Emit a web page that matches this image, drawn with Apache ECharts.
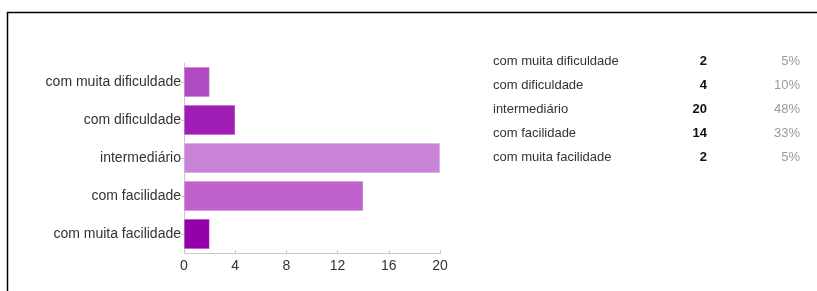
<!DOCTYPE html>
<html>
<head>
<meta charset="utf-8">
<script src="https://cdn.jsdelivr.net/npm/echarts@6/dist/echarts.min.js"></script>
<style>
  html, body { margin: 0; padding: 0; background: #fff; }
  #main { width: 817px; height: 291px; }
</style>
</head>
<body>
<div id="main"></div>
<script>
// respostas
var categories = ['com muita dificuldade', 'com dificuldade', 'intermediário', 'com facilidade', 'com muita facilidade']
var counts = [2, 4, 20, 14, 2]
var percents = ['5%', '10%', '48%', '33%', '5%']
var barColors = ['#b04ac0', '#a01eb6', '#c983d6', '#c062cb', '#9300aa']

var chart = echarts.init(document.getElementById('main'), null, { renderer: 'canvas' })

// tabela à direita
var tableItems = []
categories.forEach(function (name, i) {
  var y = 61 + i * 24
  tableItems.push({
    type: 'text', x: 493, y: y,
    style: { text: name, fill: '#333', verticalAlign: 'middle',
      font: '13px "Liberation Sans", Arial, sans-serif' }
  })
  tableItems.push({
    type: 'text', x: 707, y: y,
    style: { text: String(counts[i]), fill: '#111', align: 'right', verticalAlign: 'middle',
      font: 'bold 13px "Liberation Sans", Arial, sans-serif' }
  })
  tableItems.push({
    type: 'text', x: 800, y: y,
    style: { text: percents[i], fill: '#9a9a9a', align: 'right', verticalAlign: 'middle',
      font: '13px "Liberation Sans", Arial, sans-serif' }
  })
})

var option = {
  animation: false,
  grid: { left: 184, top: 63, width: 256, height: 190, containLabel: false },
  xAxis: {
    type: 'value',
    min: 0, max: 20, interval: 4,
    axisLine: { show: true, lineStyle: { color: '#c8c8c8' } },
    axisTick: { show: true, inside: true, length: 3, lineStyle: { color: '#c8c8c8' } },
    splitLine: { show: false },
    axisLabel: { color: '#333', fontSize: 14, margin: 6, fontFamily: '"Liberation Sans", Arial, sans-serif' }
  },
  yAxis: {
    type: 'category',
    inverse: true,
    data: categories,
    axisLine: { show: true, lineStyle: { color: '#c8c8c8' } },
    axisTick: { show: true, alignWithLabel: true, length: 3, lineStyle: { color: '#c8c8c8' } },
    axisLabel: { color: '#333', fontSize: 14, margin: 3, fontFamily: '"Liberation Sans", Arial, sans-serif' }
  },
  series: [{
    type: 'bar',
    data: counts.map(function (v, i) {
      return { value: v, itemStyle: { color: barColors[i] } }
    }),
    barCategoryGap: '21%',
    itemStyle: { borderColor: 'rgba(255,255,255,0.5)', borderWidth: 0.5 }
  }],
  graphic: [
    // moldura (só topo e lado esquerdo visíveis)
    { type: 'line', shape: { x1: 7, y1: 12.5, x2: 817, y2: 12.5 }, style: { stroke: '#000', lineWidth: 1.5 } },
    { type: 'line', shape: { x1: 7.5, y1: 12, x2: 7.5, y2: 291 }, style: { stroke: '#000', lineWidth: 1.5 } }
  ].concat(tableItems)
}

chart.setOption(option)
</script>
</body>
</html>
